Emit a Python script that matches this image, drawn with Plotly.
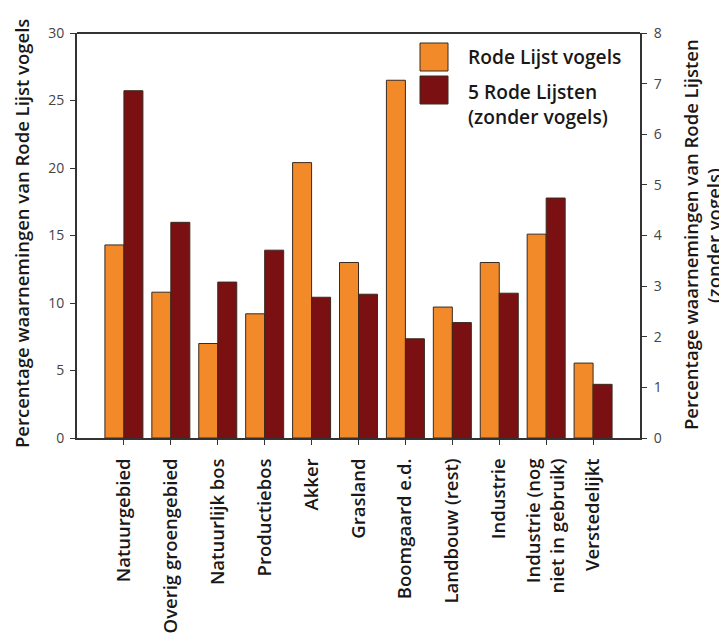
import plotly.graph_objects as go

categories = ["Natuurgebied", "Overig groengebied", "Natuurlijk bos", "Productiebos",
              "Akker", "Grasland", "Boomgaard e.d.", "Landbouw (rest)", "Industrie",
              "Industrie (nog<br>niet in gebruik)", "Verstedelijkt"]
vogels = [14.3, 10.8, 7.0, 9.2, 20.4, 13.0, 26.5, 9.7, 13.0, 15.1, 5.55]
rode_lijsten = [6.86, 4.26, 3.08, 3.71, 2.78, 2.84, 1.96, 2.28, 2.86, 4.74, 1.06]
series_names = ["Rode Lijst vogels", "5 Rode Lijsten<br>(zonder vogels)"]
colors = ["#F28A2A", "#7A1012"]

FONT = "Open Sans"
TXT = "#1a1718"
WT = 600
OFF = 8  # page body margin in the browser
W, H = 727 - OFF, 642 - OFF
L, T = 77 - OFF, 33 - OFF
R, B = W - (640 - OFF), H - (438 - OFF)
pw, ph = W - L - R, H - T - B

def px(x):  # screen x -> paper
    return (x - OFF - L) / pw

def py(y):  # screen y -> paper
    return 1 - (y - OFF - T) / ph

fig = go.Figure()
fig.add_trace(go.Bar(x=categories, y=vogels, name=series_names[0],
                     marker=dict(color=colors[0], line=dict(color="#3a2a20", width=1)),
                     offsetgroup="1", yaxis="y"))
fig.add_trace(go.Bar(x=categories, y=rode_lijsten, name=series_names[1],
                     marker=dict(color=colors[1], line=dict(color="#3a2a20", width=1)),
                     offsetgroup="2", yaxis="y2"))

shapes = [dict(type="line", xref="paper", yref="paper", x0=0, x1=1, y0=1, y1=1,
               line=dict(color="#333", width=2))]
# legend swatches
for i, (y0, y1) in enumerate([(43, 71), (76, 104)]):
    shapes.append(dict(type="rect", xref="paper", yref="paper",
                       x0=px(420), x1=px(448), y0=py(y1), y1=py(y0),
                       fillcolor=colors[i], line=dict(color="#3a2a20", width=1)))

annotations = [
    dict(text="Rode Lijst vogels", xref="paper", yref="paper", x=px(466), y=py(57),
         xanchor="left", yanchor="middle", showarrow=False,
         font=dict(size=19.2, color=TXT, weight=WT)),
    dict(text="5 Rode Lijsten<br>(zonder vogels)", xref="paper", yref="paper",
         x=px(466), y=py(104), xanchor="left", yanchor="middle", showarrow=False,
         align="left", font=dict(size=19.2, color=TXT, weight=WT)),
    dict(text="Percentage waarnemingen van Rode Lijst vogels", xref="paper", yref="paper",
         x=px(22), y=py(234), xanchor="center", yanchor="middle", textangle=-90,
         showarrow=False, font=dict(size=18.5, color=TXT, weight=WT)),
    dict(text="Percentage waarnemingen van Rode Lijsten",
         xref="paper", yref="paper", x=px(690), y=py(235), xanchor="center",
         yanchor="middle", textangle=-90, showarrow=False,
         font=dict(size=18.5, color=TXT, weight=WT)),
    dict(text="(zonder vogels)",
         xref="paper", yref="paper", x=px(713), y=py(236), xanchor="center",
         yanchor="middle", textangle=-90, showarrow=False,
         font=dict(size=18.5, color=TXT, weight=WT)),
]

fig.update_layout(
    width=W, height=H,
    margin=dict(l=L, r=R, t=T, b=B, autoexpand=False),
    paper_bgcolor="white", plot_bgcolor="white",
    barmode="group", bargap=0.19, bargroupgap=0,
    font=dict(family=FONT, color=TXT),
    showlegend=False,
    xaxis=dict(range=[-1, 11], showline=True, linecolor="#333", linewidth=2,
               ticks="outside", ticklen=5, tickcolor="#333", tickangle=-90,
               ticklabelstandoff=6,
               tickfont=dict(size=18.5, color=TXT, weight=WT), showgrid=False,
               automargin=False),
    yaxis=dict(range=[0, 30], tickvals=[0, 5, 10, 15, 20, 25, 30],
               showline=True, linecolor="#333", linewidth=2, ticks="outside",
               ticklen=5, tickcolor="#333", showgrid=False, zeroline=False,
               ticklabelstandoff=3,
               tickfont=dict(size=14, color="#444"), automargin=False),
    yaxis2=dict(range=[0, 8], tickvals=list(range(9)), overlaying="y", side="right",
                showline=True, linecolor="#333", linewidth=2, ticks="outside",
                ticklen=5, tickcolor="#333", showgrid=False, zeroline=False,
                ticklabelstandoff=4,
                tickfont=dict(size=14, color="#444"), automargin=False),
    shapes=shapes,
    annotations=annotations,
)

fig.write_html("out.html")
